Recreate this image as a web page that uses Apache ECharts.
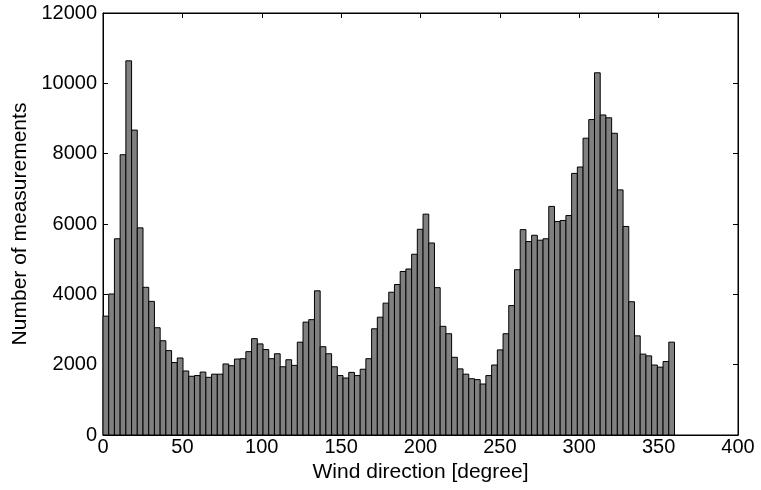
<!DOCTYPE html>
<html>
<head>
<meta charset="utf-8">
<script src="https://cdn.jsdelivr.net/npm/echarts@6/dist/echarts.min.js"></script>
<style>html,body{margin:0;padding:0;background:#fff}#c{width:761px;height:490px}</style>
</head>
<body>
<div id="c"></div>
<script>
// Histogram of wind directions: 100 bins of 3.6 degrees from 0 to 360
const binWidth = 3.6;
const counts = [
  3380, 4010, 5580, 7970, 10640, 8670, 5890, 4200, 3800, 3050,
  2680, 2400, 2060, 2190, 1820, 1670, 1690, 1790, 1640, 1730,
  1730, 2020, 1970, 2160, 2170, 2370, 2740, 2590, 2430, 2170,
  2310, 1940, 2140, 1980, 2640, 3210, 3280, 4100, 2510, 2310,
  1940, 1690, 1620, 1780, 1690, 1870, 2170, 3020, 3350, 3750,
  4060, 4280, 4650, 4720, 5140, 5850, 6280, 5460, 4190, 3090,
  2880, 2210, 1880, 1730, 1600, 1575, 1450, 1690, 1990, 2420,
  2880, 3680, 4700, 5840, 5500, 5680, 5540, 5580, 6500, 6070,
  6100, 6240, 7440, 7620, 8440, 8970, 10300, 9100, 9020, 8580,
  6970, 5930, 3790, 2820, 2300, 2250, 1990, 1930, 2090, 2640
];
const xTicks = [0, 50, 100, 150, 200, 250, 300, 350, 400];
const yTicks = [0, 2000, 4000, 6000, 8000, 10000, 12000];
const xLabel = 'Wind direction [degree]';
const yLabel = 'Number of measurements';

const data = counts.map((v, i) => [i * binWidth, (i + 1) * binWidth, v]);

const font = 'Liberation Sans, Arial, Helvetica, sans-serif';
const chart = echarts.init(document.getElementById('c'), null, {renderer: 'canvas'});
const axisCommon = {
  axisLine: {show: true, onZero: false, lineStyle: {color: '#000', width: 1}},
  axisTick: {show: true, inside: true, length: 5, lineStyle: {color: '#000'}},
  splitLine: {show: false}
};
chart.setOption({
  animation: false,
  backgroundColor: '#fff',
  grid: {left: 103, right: 23, top: 13, bottom: 55, show: true, borderColor: '#000', borderWidth: 1, backgroundColor: 'transparent'},
  xAxis: [
    Object.assign({
      type: 'value', min: xTicks[0], max: xTicks[xTicks.length - 1], interval: 50, position: 'bottom',
      name: xLabel, nameLocation: 'middle', nameGap: 22,
      nameTextStyle: {color: '#000', fontSize: 21, fontFamily: font},
      axisLabel: {color: '#000', fontSize: 20, fontFamily: font, margin: 2, formatter: v => String(v)}
    }, axisCommon),
    Object.assign({
      type: 'value', min: 0, max: 400, interval: 50, position: 'top',
      axisLabel: {show: false}
    }, axisCommon)
  ],
  yAxis: [
    Object.assign({
      type: 'value', min: yTicks[0], max: yTicks[yTicks.length - 1], interval: 2000, position: 'left',
      name: yLabel, nameLocation: 'middle', nameGap: 70,
      nameTextStyle: {color: '#000', fontSize: 21, fontFamily: font},
      axisLabel: {color: '#000', fontSize: 20, fontFamily: font, margin: 6, formatter: v => String(v)}
    }, axisCommon),
    Object.assign({
      type: 'value', min: 0, max: 12000, interval: 2000, position: 'right',
      axisLabel: {show: false}
    }, axisCommon)
  ],
  series: [{
    type: 'custom',
    xAxisIndex: 0, yAxisIndex: 0,
    data: data,
    encode: {x: [0, 1], y: 2},
    renderItem: function (params, api) {
      const p0 = api.coord([api.value(0), 0]);
      const p1 = api.coord([api.value(1), api.value(2)]);
      return {
        type: 'rect',
        shape: {x: p0[0], y: p1[1], width: p1[0] - p0[0], height: p0[1] - p1[1]},
        style: {fill: '#808080', stroke: '#000', lineWidth: 1}
      };
    }
  }]
});
</script>
</body>
</html>
